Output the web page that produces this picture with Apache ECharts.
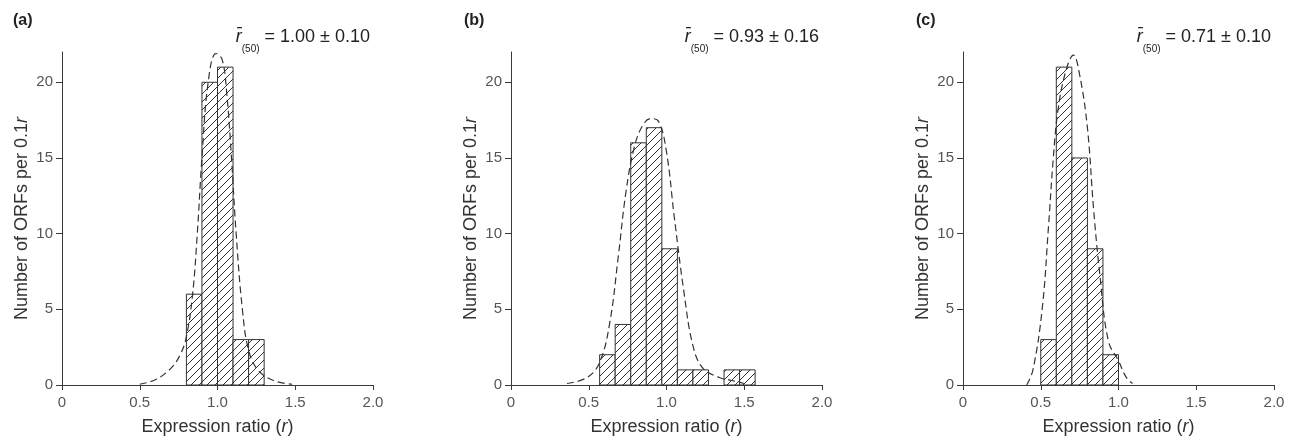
<!DOCTYPE html>
<html>
<head>
<meta charset="utf-8">
<script src="https://cdn.jsdelivr.net/npm/echarts@6.0.0/dist/echarts.min.js"></script>
<style>
html,body{margin:0;padding:0;background:#fff;}
#chart{width:1297px;height:441px;}
</style>
</head>
<body>
<div id="chart"></div>
<script>
// ---------- data ----------
const binWidth = 0.1;
const panelLabels = ['(a)', '(b)', '(c)'];
const meanText = ['1.00 ± 0.10', '0.93 ± 0.16', '0.71 ± 0.10'];

const binStartA = [0.8, 0.9, 1.0, 1.1, 1.2];
const countsA   = [6, 20, 21, 3, 3];
const binStartB = [0.57, 0.67, 0.77, 0.87, 0.97, 1.07, 1.17, 1.37, 1.47];
const countsB   = [2, 4, 16, 17, 9, 1, 1, 1, 1];
const binStartC = [0.5, 0.6, 0.7, 0.8, 0.9];
const countsC   = [3, 21, 15, 9, 2];

const fitXA = [0.50, 0.60, 0.70, 0.76, 0.80, 0.84, 0.87, 0.90, 0.94, 0.99, 1.03, 1.06, 1.09, 1.12, 1.16, 1.20, 1.26, 1.36, 1.48];
const fitYA = [0.05, 0.35, 1.1, 2.0, 3.2, 6.0, 10.0, 15.0, 20.0, 21.9, 21.5, 19.2, 15.0, 10.0, 5.0, 2.3, 1.0, 0.3, 0.05];
const fitXB = [0.36, 0.49, 0.57, 0.635, 0.69, 0.74, 0.795, 0.85, 0.90, 0.95, 1.00, 1.05, 1.11, 1.17, 1.235, 1.34, 1.42, 1.50];
const fitYB = [0.1, 0.5, 1.5, 4.1, 8.5, 12.8, 15.8, 17.2, 17.6, 17.4, 15.4, 11.1, 6.3, 2.6, 1.1, 0.5, 0.3, 0.1];
const fitXC = [0.41, 0.45, 0.51, 0.55, 0.58, 0.61, 0.66, 0.71, 0.75, 0.80, 0.84, 0.88, 0.935, 1.00, 1.05, 1.09];
const fitYC = [0.0, 1.0, 5.1, 10.5, 14.9, 18.1, 20.7, 21.8, 20.5, 17.0, 11.6, 7.3, 2.9, 1.6, 0.5, 0.1];

const xTicks = [0, 0.5, 1.0, 1.5, 2.0];
const yTicks = [0, 5, 10, 15, 20];
// ---------- end data ----------

const panels = [
  {starts: binStartA, counts: countsA, fx: fitXA, fy: fitYA},
  {starts: binStartB, counts: countsB, fx: fitXB, fy: fitYB},
  {starts: binStartC, counts: countsC, fx: fitXC, fy: fitYC}
];
const gridLefts = [62, 511, 963];
const labelLefts = [13, 464, 916];
const gridW = 311, gridTop = 52, gridH = 338;
const FONT = "'Liberation Sans', Arial, Helvetica, sans-serif";
const AX = '#3a3a3a';

// hatch pattern
const hc = document.createElement('canvas');
hc.width = 8; hc.height = 8;
const hx = hc.getContext('2d');
hx.fillStyle = '#fff'; hx.fillRect(0, 0, 8, 8);
hx.strokeStyle = '#333'; hx.lineWidth = 1;
hx.beginPath();
hx.moveTo(0, 8); hx.lineTo(8, 0);
hx.moveTo(-1, 1); hx.lineTo(1, -1);
hx.moveTo(7, 9); hx.lineTo(9, 7);
hx.stroke();
const hatch = {image: hc, repeat: 'repeat'};

const grids = [], xAxes = [], yAxes = [], series = [], titles = [];
panels.forEach((p, i) => {
  grids.push({left: gridLefts[i], top: gridTop, width: gridW, height: gridH, containLabel: false});
  xAxes.push({
    type: 'value', gridIndex: i, min: 0, max: 2, interval: 0.5,
    axisLine: {show: true, lineStyle: {color: AX, width: 1}},
    axisTick: {show: true, length: 5, lineStyle: {color: AX}, customValues: xTicks},
    splitLine: {show: false},
    axisLabel: {
      margin: 10, color: '#555', fontSize: 15, fontFamily: FONT, customValues: xTicks,
      formatter: v => (v === 0 ? '0' : v.toFixed(1))
    },
    name: 'Expression ratio ({i|r})', nameLocation: 'middle', nameGap: 33,
    nameTextStyle: {
      color: '#333', fontSize: 18, fontFamily: FONT,
      rich: {i: {fontStyle: 'italic', fontSize: 18, fontFamily: FONT, color: '#333'}}
    }
  });
  yAxes.push({
    type: 'value', gridIndex: i, min: 0, max: 22, interval: 5,
    axisLine: {show: true, lineStyle: {color: AX, width: 1}},
    axisTick: {show: true, length: 6, lineStyle: {color: AX}, customValues: yTicks},
    splitLine: {show: false},
    axisLabel: {margin: 9, color: '#555', fontSize: 15, fontFamily: FONT, customValues: yTicks},
    name: 'Number of ORFs per 0.1{i|r}', nameLocation: 'middle', nameGap: 31,
    nameTextStyle: {
      color: '#333', fontSize: 18, fontFamily: FONT,
      rich: {i: {fontStyle: 'italic', fontSize: 18, fontFamily: FONT, color: '#333'}}
    }
  });
  series.push({
    type: 'custom', xAxisIndex: i, yAxisIndex: i,
    data: p.starts.map((s, k) => [s, s + binWidth, p.counts[k]]),
    encode: {x: [0, 1], y: 2},
    renderItem: (params, api) => {
      const a = api.coord([api.value(0), api.value(2)]);
      const b = api.coord([api.value(1), 0]);
      return {
        type: 'rect',
        shape: {x: a[0], y: a[1], width: b[0] - a[0], height: b[1] - a[1]},
        style: {fill: hatch, stroke: '#333', lineWidth: 1}
      };
    },
    z: 2
  });
  series.push({
    type: 'line', xAxisIndex: i, yAxisIndex: i,
    data: p.fx.map((x, k) => [x, p.fy[k]]),
    smooth: 0.4, showSymbol: false, symbol: 'none',
    lineStyle: {color: '#333', width: 1.2, type: [7, 4]},
    z: 3, silent: true
  });
  titles.push({
    text: panelLabels[i], left: labelLefts[i], top: 13, padding: 0,
    textStyle: {fontSize: 16, fontWeight: 'bold', color: '#222', fontFamily: FONT}
  });
  titles.push({
    text: '{r|r\u0304}{s|(50)}{t| = ' + meanText[i] + '}',
    right: 1297 - (gridLefts[i] + gridW) + 3, top: 28, padding: 0,
    textStyle: {
      fontWeight: 'normal',
      rich: {
        r: {fontSize: 18, fontStyle: 'italic', fontWeight: 'normal', color: '#222', fontFamily: FONT, lineHeight: 26, verticalAlign: 'top'},
        s: {fontSize: 10, fontWeight: 'normal', color: '#222', fontFamily: FONT, lineHeight: 12, verticalAlign: 'bottom'},
        t: {fontSize: 18, fontWeight: 'normal', color: '#222', fontFamily: FONT, lineHeight: 26, verticalAlign: 'top'}
      }
    }
  });
});

const chart = echarts.init(document.getElementById('chart'), null, {renderer: 'canvas'});
chart.setOption({
  animation: false,
  backgroundColor: '#fff',
  title: titles,
  grid: grids,
  xAxis: xAxes,
  yAxis: yAxes,
  series: series
});
</script>
</body>
</html>
